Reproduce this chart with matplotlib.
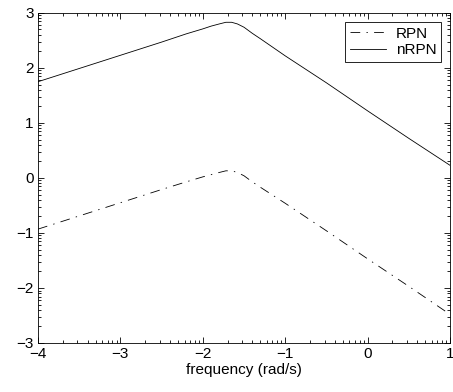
import numpy as np
import matplotlib
matplotlib.use('Agg')
import matplotlib.pyplot as plt

plt.rcParams['font.family'] = ['Liberation Sans', 'DejaVu Sans']
plt.rcParams['lines.scale_dashes'] = False

# Данные
freq = [-4, -3.5, -3, -2.5, -2.2, -2.0, -1.9, -1.8, -1.72, -1.65, -1.58,
        -1.5, -1.4, -1.3, -1.0, -0.5, 0, 0.5, 1]
rpn = [-0.93, -0.69, -0.45, -0.21, -0.07, 0.02, 0.06, 0.10, 0.13, 0.13, 0.10,
       0.04, -0.07, -0.17, -0.46, -0.96, -1.47, -1.97, -2.48]
nrpn = [1.75, 1.99, 2.23, 2.47, 2.62, 2.71, 2.76, 2.80, 2.83, 2.83, 2.80,
        2.74, 2.63, 2.53, 2.22, 1.73, 1.22, 0.72, 0.23]
xticks = [-4, -3, -2, -1, 0, 1]
yticks = [-3, -2, -1, 0, 1, 2, 3]

fig = plt.figure(figsize=(4.53, 3.92), dpi=100)
ax = fig.add_axes([0.0839, 0.125, 0.9095, 0.842])

ax.plot(freq, rpn, color='black', linewidth=0.6,
        linestyle=(0, (7, 4.5, 1, 4.5)), label='RPN')
ax.plot(freq, nrpn, color='black', linewidth=0.6, label='nRPN')

ax.set_xlim(-4, 1)
ax.set_ylim(-3, 3)
ax.set_xticks(xticks)
ax.set_yticks(yticks)

# логарифмические минорные деления, как в MATLAB
minor_x = [n + np.log10(k) for n in range(-4, 1) for k in range(2, 10)]
minor_y = [n + np.log10(k) for n in range(-3, 3) for k in range(2, 10)]
ax.set_xticks(minor_x, minor=True)
ax.set_yticks(minor_y, minor=True)

ax.tick_params(which='both', direction='in', top=True, right=True,
               labelsize=11, width=0.6)
ax.tick_params(which='major', length=4, pad=3)
ax.tick_params(which='minor', length=2)
for s in ax.spines.values():
    s.set_linewidth(0.6)

ax.set_xlabel('frequency (rad/s)', fontsize=11, labelpad=1)

leg = ax.legend(loc='upper right', fontsize=11, handlelength=2.4,
                fancybox=False, framealpha=1, edgecolor='black',
                borderaxespad=0.6, labelspacing=0.15, borderpad=0.3,
                handletextpad=0.6)
leg.get_frame().set_linewidth(0.6)

fig.savefig('out.png', dpi=100)
